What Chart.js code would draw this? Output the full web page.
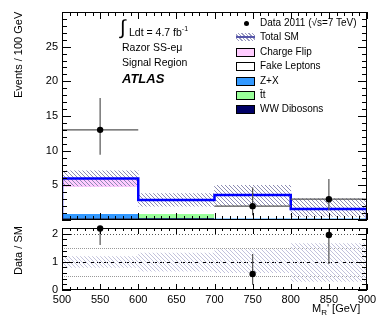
<!DOCTYPE html>
<html>
<head>
<meta charset="utf-8">
<script src="https://cdn.jsdelivr.net/npm/chart.js@4.4.0/dist/chart.umd.min.js"></script>
<style>
  body { margin: 0; background: #fff; width: 390px; height: 321px; position: relative; overflow: hidden; font-family: "Liberation Sans", Arial, sans-serif; color: #000; }
  canvas { position: absolute; left: 0; }
  #topChart { top: 0; }
  #ratioChart { top: 224px; }
  .txt { position: absolute; white-space: nowrap; font-size: 10.5px; line-height: 12px; }
  .vtitle { position: absolute; writing-mode: vertical-rl; transform: rotate(180deg); text-align: end; font-size: 11px; line-height: 12px; width: 12px; white-space: nowrap; }
  .leg { position: absolute; left: 236px; width: 19px; height: 9px; box-sizing: border-box; border: 1px solid #000; }
  .legtxt { position: absolute; left: 260px; font-size: 10px; line-height: 12px; white-space: nowrap; }
</style>
</head>
<body>
<canvas id="topChart" width="390" height="224"></canvas>
<canvas id="ratioChart" width="390" height="97"></canvas>

<div class="vtitle" style="left:12px; top:12px; height:100px;">Events / 100 GeV</div>
<div class="vtitle" style="left:12px; top:226px; height:60px;">Data / SM</div>
<div class="txt" style="left:312px; top:302px; font-size:11px;">M<sub style="font-size:8px;">R</sub>' [GeV]</div>

<div class="txt" style="left:120px; top:16px; font-size:20px; line-height:22px;">&int;</div>
<div class="txt" style="left:129px; top:23px;">Ldt = 4.7 fb<sup style="font-size:7px;">-1</sup></div>
<div class="txt" style="left:122px; top:41px;">Razor SS-e&mu;</div>
<div class="txt" style="left:122px; top:56px;">Signal Region</div>
<div class="txt" style="left:122px; top:71px; font-size:13px; line-height:15px; font-weight:bold; font-style:italic;">ATLAS</div>

<div style="position:absolute; left:244px; top:21px; width:5px; height:5px; border-radius:50%; background:#000;"></div>
<div class="legtxt" style="top:17px;">Data 2011 (&radic;s=7 TeV)</div>
<div style="position:absolute; left:236px; top:33px; width:19px; height:8px; background:repeating-linear-gradient(45deg, #fff 0 1.5px, #9a9ac0 1.5px 2.5px);"></div>
<div style="position:absolute; left:236px; top:36px; width:19px; height:2px; background:#5555aa;"></div>
<div class="legtxt" style="top:31px;">Total SM</div>
<div class="leg" style="top:48px; background:#ffccff;"></div>
<div class="legtxt" style="top:46px;">Charge Flip</div>
<div class="leg" style="top:62px; background:#fff;"></div>
<div class="legtxt" style="top:60px;">Fake Leptons</div>
<div class="leg" style="top:77px; background:#3399ff;"></div>
<div class="legtxt" style="top:75px;">Z+X</div>
<div class="leg" style="top:91px; background:#99ff99;"></div>
<div class="legtxt" style="top:89px;">t&#772;t</div>
<div class="leg" style="top:105px; background:#000066;"></div>
<div class="legtxt" style="top:103px;">WW Dibosons</div>

<script>
const binEdges = [500, 600, 700, 800, 900];
const binCenters = [550, 650, 750, 850];

// stacked backgrounds, events / 100 GeV
const wwDibosons = [0.3, 0.3, 0.2, 0.2];
const ttbar = [0.0, 0.6, 0.0, 0.0];
const zPlusX = [0.6, 0.0, 0.05, 0.05];
const fakeLeptons = [3.9, 2.0, 3.35, 1.35];
const chargeFlip = [1.2, 0.0, 0.0, 0.0];

const totalSM = [6.0, 2.9, 3.6, 1.6];
const smBandLow = [4.9, 2.0, 2.0, 0.5];
const smBandHigh = [7.1, 3.8, 5.0, 3.1];

const dataCounts = [13, null, 2, 3];
const dataErrLow = [9.4, null, 0.7, 1.4];
const dataErrHigh = [17.6, null, 4.7, 5.9];

// ratio panel
const ratioValues = [2.18, null, 0.57, 1.95];
const ratioErrLow = [1.6, null, 0.19, 0.92];
const ratioErrHigh = [2.9, null, 1.28, 3.0];
const ratioBandLow = [0.79, 0.66, 0.6, 0.29];
const ratioBandHigh = [1.2, 1.32, 1.45, 1.66];
const ratioRefLines = [0.5, 1, 1.5, 2];

const tickFont = { family: "'Liberation Sans', Arial, sans-serif", size: 11 };

function hatch(color, gap) {
  const c = document.createElement('canvas');
  c.width = gap; c.height = gap;
  const g = c.getContext('2d');
  g.strokeStyle = color;
  g.lineWidth = 1;
  g.beginPath();
  g.moveTo(0, 0); g.lineTo(gap, gap);
  g.moveTo(-1, gap - 1); g.lineTo(1, gap + 1);
  g.moveTo(gap - 1, -1); g.lineTo(gap + 1, 1);
  g.stroke();
  return g.createPattern(c, 'repeat');
}

// floating bars stacked by hand: each layer sits on the sum of the ones below
const layers = [wwDibosons, ttbar, zPlusX, fakeLeptons, chargeFlip];
const layerColors = ['#000066', '#99ff99', '#3399ff', '#ffffff', '#ffccff'];
const cum = binCenters.map(() => 0);
const stackSets = layers.map((vals, k) => {
  const d = binCenters.map((x, i) => {
    const lo = cum[i];
    cum[i] += vals[i];
    return { x: x, y: [lo, cum[i]] };
  });
  return { type: 'bar', data: d, backgroundColor: layerColors[k], borderWidth: 0, grouped: false,
    barPercentage: 1, categoryPercentage: 1, order: 10 - k };
});

function stepLine(vals, closeToZero) {
  const pts = [];
  if (closeToZero) pts.push({ x: binEdges[0], y: 0 });
  vals.forEach((v, i) => {
    pts.push({ x: binEdges[i], y: v });
    pts.push({ x: binEdges[i + 1], y: v });
  });
  if (closeToZero) pts.push({ x: binEdges[binEdges.length - 1], y: 0 });
  return pts;
}

function errorBars(vals, lo, hi, withX) {
  const pts = [];
  binCenters.forEach((x, i) => {
    if (vals[i] === null) return;
    pts.push({ x: x, y: lo[i] }, { x: x, y: hi[i] }, { x: x, y: null });
    if (withX) pts.push({ x: binEdges[i], y: vals[i] }, { x: binEdges[i + 1], y: vals[i] }, { x: x, y: null });
  });
  return pts;
}

function points(vals) {
  return binCenters.map((x, i) => ({ x: x, y: vals[i] })).filter(p => p.y !== null);
}

// fixed axis width, and no extra room for the end labels
function fixY(s) {
  s.width = 62;
  s.paddingTop = 0;
  s.paddingBottom = 0;
}

const frameTicks = {
  id: 'frameTicks',
  afterDatasetsDraw(chart, args, o) {
    const { ctx, chartArea: a, scales: { x, y } } = chart;
    ctx.save();
    ctx.strokeStyle = '#000';
    ctx.lineWidth = 1;
    ctx.beginPath();
    const nx = Math.round((x.max - x.min) / o.xMinor);
    for (let i = 0; i <= nx; i++) {
      const v = x.min + i * o.xMinor;
      const px = Math.round(x.getPixelForValue(v)) + 0.5;
      const len = (i % o.xEvery === 0) ? o.xMajorLen : o.xMinorLen;
      ctx.moveTo(px, a.bottom); ctx.lineTo(px, a.bottom - len);
      ctx.moveTo(px, a.top); ctx.lineTo(px, a.top + len);
    }
    const ny = Math.round((y.max - y.min) / o.yMinor);
    for (let i = 0; i <= ny; i++) {
      const v = y.min + i * o.yMinor;
      const py = Math.round(y.getPixelForValue(v)) + 0.5;
      const len = (i % o.yEvery === 0) ? o.yMajorLen : o.yMinorLen;
      ctx.moveTo(a.left, py); ctx.lineTo(a.left + len, py);
      ctx.moveTo(a.right, py); ctx.lineTo(a.right - len, py);
    }
    ctx.stroke();
    ctx.strokeRect(Math.round(a.left) + 0.5, Math.round(a.top) + 0.5, Math.round(a.right - a.left) - 1, Math.round(a.bottom - a.top) - 1);
    ctx.restore();
  }
};

const refLines = {
  id: 'refLines',
  beforeDatasetsDraw(chart) {
    const { ctx, chartArea: a, scales: { y } } = chart;
    ctx.save();
    ratioRefLines.forEach(v => {
      const py = Math.round(y.getPixelForValue(v)) + 0.5;
      ctx.beginPath();
      if (v === 1) { ctx.strokeStyle = '#000'; ctx.setLineDash([4, 3]); }
      else if (v === 2) { ctx.strokeStyle = '#555'; ctx.setLineDash([1, 2]); }
      else { ctx.strokeStyle = '#999'; ctx.setLineDash([1, 1]); }
      ctx.moveTo(a.left, py); ctx.lineTo(a.right, py);
      ctx.stroke();
    });
    ctx.restore();
  }
};

new Chart(document.getElementById('topChart'), {
  type: 'bar',
  data: {
    datasets: [
      { type: 'line', data: points(dataCounts), showLine: false, pointRadius: 3.2, pointBackgroundColor: '#000',
        pointBorderWidth: 0, clip: false, order: 0 },
      { type: 'line', data: errorBars(dataCounts, dataErrLow, dataErrHigh, true), borderColor: '#555', borderWidth: 1.2,
        pointRadius: 0, spanGaps: false, order: 1 },
      { type: 'line', data: stepLine(totalSM, true), borderColor: '#0000ff', borderWidth: 2.5, pointRadius: 0,
        borderJoinStyle: 'miter', order: 2 },
      { type: 'bar', data: binCenters.map((x, i) => ({ x: x, y: [smBandLow[i], smBandHigh[i]] })),
        backgroundColor: hatch('#8c8cb4', 4), borderWidth: 0, grouped: false, barPercentage: 1, categoryPercentage: 1, order: 3 },
      ...stackSets
    ]
  },
  options: {
    responsive: false,
    animation: false,
    layout: { padding: { left: 0, right: 23, top: 12, bottom: 2 } },
    plugins: {
      legend: { display: false },
      tooltip: { enabled: false },
      frameTicks: { xMinor: 10, xEvery: 5, xMajorLen: 7, xMinorLen: 4, yMinor: 1, yEvery: 5, yMajorLen: 9, yMinorLen: 5 }
    },
    scales: {
      x: { type: 'linear', min: 500, max: 900, offset: false, display: false, ticks: { stepSize: 100 } },
      y: {
        min: 0, max: 30,
        afterFit: fixY,
        grid: { display: false, drawTicks: false },
        border: { display: false },
        ticks: { stepSize: 5, padding: 4, color: '#000', font: tickFont,
          callback: v => (v === 0 || v === 30) ? '' : v }
      }
    }
  },
  plugins: [frameTicks]
});

new Chart(document.getElementById('ratioChart'), {
  type: 'line',
  data: {
    datasets: [
      { data: points(ratioValues), showLine: false, pointRadius: 3.2, pointBackgroundColor: '#000',
        pointBorderWidth: 0, clip: false, order: 0 },
      { data: errorBars(ratioValues, ratioErrLow, ratioErrHigh, false), borderColor: '#555', borderWidth: 1.2,
        pointRadius: 0, spanGaps: false, order: 1 },
      { data: stepLine(ratioBandHigh, false), borderWidth: 0, pointRadius: 0, fill: '+1',
        backgroundColor: hatch('#c2c2dc', 4), order: 2 },
      { data: stepLine(ratioBandLow, false), borderWidth: 0, pointRadius: 0, fill: false, order: 3 }
    ]
  },
  options: {
    responsive: false,
    animation: false,
    layout: { padding: { left: 0, right: 23, top: 2, bottom: 0 } },
    plugins: {
      legend: { display: false },
      tooltip: { enabled: false },
      frameTicks: { xMinor: 10, xEvery: 5, xMajorLen: 6, xMinorLen: 3, yMinor: 0.2, yEvery: 5, yMajorLen: 9, yMinorLen: 5 }
    },
    scales: {
      x: {
        type: 'linear', min: 500, max: 900, offset: false,
        afterFit: s => { s.height = 31; s.paddingLeft = 0; s.paddingRight = 0; },
        grid: { display: false, drawTicks: false },
        border: { display: false },
        ticks: { stepSize: 50, padding: 3, color: '#000', font: tickFont, maxRotation: 0, autoSkip: false }
      },
      y: {
        min: 0, max: 2.2,
        afterFit: fixY,
        afterBuildTicks: s => { s.ticks = [0, 1, 2].map(v => ({ value: v })); },
        grid: { display: false, drawTicks: false },
        border: { display: false },
        ticks: { padding: 4, color: '#000', font: tickFont }
      }
    }
  },
  plugins: [refLines, frameTicks]
});
</script>
</body>
</html>
